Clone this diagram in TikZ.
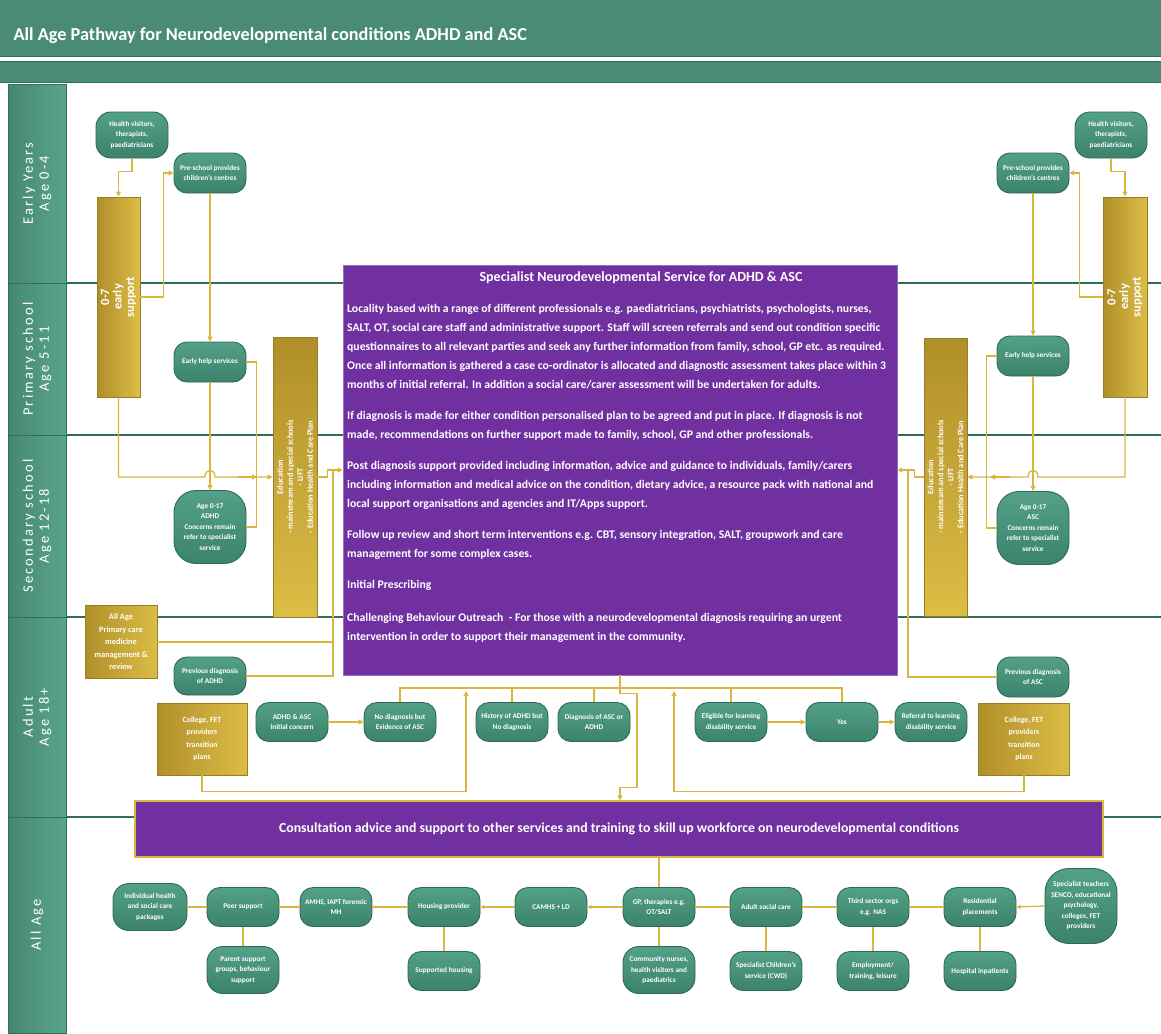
\documentclass[tikz,border=0pt]{standalone}
\usepackage{fontspec}
\setmainfont{Carlito}
\usetikzlibrary{arrows.meta,calc}
\definecolor{hdr}{HTML}{4A8C73}
\definecolor{hdrd}{HTML}{2F6F57}
\definecolor{lanef}{HTML}{45886F}
\definecolor{lanel}{HTML}{5AA58A}
\definecolor{ng}{HTML}{3B836A}
\definecolor{ngl}{HTML}{54A088}
\definecolor{ngd}{HTML}{2C6A54}
\definecolor{goldd}{HTML}{B08F2A}
\definecolor{goldl}{HTML}{DCBD45}
\definecolor{goldb}{HTML}{9A7D22}
\definecolor{wire}{HTML}{D8B640}
\definecolor{purp}{HTML}{7030A0}
\tikzset{
  gn/.style={rectangle, rounded corners=13pt, draw=ngd, line width=0.9pt,
    top color=ngl, bottom color=ng, text=white, align=center,
    font=\bfseries\fontsize{7.3}{10.5}\selectfont,
    minimum width=72pt, minimum height=39pt, inner sep=1pt},
  gbox/.style={rectangle, draw=goldb, line width=0.9pt, left color=goldd,
    right color=goldl, text=white, align=center,
    font=\bfseries\fontsize{7.8}{12.5}\selectfont, inner sep=1pt},
  gboxv/.style={gbox, left color=goldd, right color=goldl},
  lanecell/.style={rectangle, draw=hdrd, line width=1pt, left color=lanef,
    right color=lanel, text=white, align=center, rotate=90, inner sep=0pt,
    font=\fontsize{14.5}{16}\selectfont\addfontfeature{LetterSpace=15}},
  wire/.style={draw=wire, line width=1.3pt},
  arr/.style={wire, -{Triangle[length=5pt,width=5pt]}},
  arrs/.style={wire, -{Triangle[length=4pt,width=4pt]}}
}
\begin{document}
\begin{tikzpicture}[x=1pt,y=-1pt]
\useasboundingbox (0,0) rectangle (1161,1033);
\fill[white] (0,0) rectangle (1161,1033);
% header bars
\fill[hdr] (0,0) rectangle (1161,57);
\draw[hdrd, line width=1pt] (0,57) -- (1161,57);
\fill[hdr] (0,62) rectangle (1161,82);
\draw[hdrd, line width=1pt] (0,62) -- (1161,62);
\draw[hdrd, line width=1pt] (0,82) -- (1161,82);
\node[anchor=west, text=white, font=\bfseries\fontsize{18.3}{21}\selectfont] (title) at (10,36)
  {All Age Pathway for Neurodevelopmental conditions ADHD and ASC};

% lanes
\foreach \yy in {283,435,617,817} \draw[hdrd, line width=1.6pt] (66,\yy) -- (1161,\yy);
\node[lanecell, minimum width=199pt, minimum height=58pt] (lane1) at (37,183.5) {Early Years\\Age 0-4};
\node[lanecell, minimum width=152pt, minimum height=58pt] (lane2) at (37,359) {Primary school\\Age 5-11};
\node[lanecell, minimum width=182pt, minimum height=58pt] (lane3) at (37,526) {Secondary school\\Age 12-18};
\node[lanecell, minimum width=200pt, minimum height=58pt] (lane4) at (37,717) {Adult\\Age 18+};
\node[lanecell, minimum width=216pt, minimum height=58pt] (lane5) at (37,925) {All Age};

% ---------------- left upper ----------------
\node[gn, minimum height=46pt, rounded corners=15pt] (hvL) at (132,135) {Health visitors,\\therapists,\\paediatricians};
\node[gn, minimum height=40pt] (psL) at (210,173) {Pre-school provides\\children's centres};
\node[gboxv, minimum width=200pt, minimum height=43pt, rotate=90,
  font=\bfseries\fontsize{12.5}{12.5}\selectfont] (eyL) at (118.5,297) {0-7\\early\\support};
\node[gn, minimum height=40pt] (ehL) at (210,362) {Early help services};
\node[gn, minimum height=73pt, rounded corners=22pt] (ageL) at (210,527) {Age 0-17\\ADHD\\Concerns remain\\refer to specialist\\service};
\node[gbox, minimum width=280pt, minimum height=44pt, rotate=90, top color=goldd, bottom color=goldl,
  font=\bfseries\fontsize{8.3}{10}\selectfont] (eduL) at (295,477)
  {Education\\- mainstream and special schools\\- LIFT\\- Education Health and Care Plan};
\node[gbox, minimum width=72pt, minimum height=73pt, font=\bfseries\fontsize{8.3}{12.5}\selectfont] (allage) at (121,642) {All Age\\Primary care\\medicine\\management \&\\review};
\node[gn, minimum height=38pt] (prevADHD) at (210,676) {Previous diagnosis\\of ADHD};
\node[gbox, minimum width=90pt, minimum height=72pt] (colL) at (202,739) {College, FET\\providers\\transition\\plans};

% ---------------- right upper ----------------
\node[gn, minimum height=46pt, rounded corners=15pt] (hvR) at (1111,135) {Health visitors,\\therapists,\\paediatricians};
\node[gn, minimum height=40pt] (psR) at (1033,173) {Pre-school provides\\children's centres};
\node[gboxv, minimum width=200pt, minimum height=44pt, rotate=90,
  font=\bfseries\fontsize{12.5}{12.5}\selectfont] (eyR) at (1125,297) {0-7\\early\\support};
\node[gn, minimum height=40pt] (ehR) at (1033,356) {Early help services};
\node[gn, minimum height=73pt, rounded corners=22pt] (ageR) at (1033,528) {Age 0-17\\ASC\\Concerns remain\\refer to specialist\\service};
\node[gbox, minimum width=278pt, minimum height=43pt, rotate=90, top color=goldd, bottom color=goldl,
  font=\bfseries\fontsize{8.3}{10}\selectfont] (eduR) at (945.5,477)
  {Education\\- mainstream and special schools\\- LIFT\\- Education Health and Care Plan};
\node[gn, minimum height=40pt] (prevASC) at (1033,677) {Previous diagnosis\\of ASC};
\node[gbox, minimum width=91pt, minimum height=72pt] (colR) at (1024,739) {College, FET\\providers\\transition\\plans};

% ---------------- main purple box ----------------
\node[rectangle, fill=purp, draw=purp!70!white, line width=0.6pt, minimum width=554pt, minimum height=410pt] (main) at (620,470) {};
\node[text=white, font=\bfseries\fontsize{14}{16}\selectfont] (mtitle) at (641,278)
  {Specialist Neurodevelopmental Service for ADHD \& ASC};
\node[anchor=north west, text=white, align=left, inner sep=0pt,
  font=\bfseries\fontsize{11.7}{19}\selectfont] (mtext) at (347,304)
  {Locality based with a range of different professionals e.g. paediatricians, psychiatrists, psychologists, nurses,\\
   SALT, OT, social care staff and administrative support. Staff will screen referrals and send out condition specific\\
   questionnaires to all relevant parties and seek any further information from family, school, GP etc. as required.\\
   Once all information is gathered a case co-ordinator is allocated and diagnostic assessment takes place within 3\\
   months of initial referral. In addition a social care/carer assessment will be undertaken for adults.\\[12pt]
   If diagnosis is made for either condition personalised plan to be agreed and put in place. If diagnosis is not\\
   made, recommendations on further support made to family, school, GP and other professionals.\\[12pt]
   Post diagnosis support provided including information, advice and guidance to individuals, family/carers\\
   including information and medical advice on the condition, dietary advice, a resource pack with national and\\
   local support organisations and agencies and IT/Apps support.\\[12pt]
   Follow up review and short term interventions e.g. CBT, sensory integration, SALT, groupwork and care\\
   management for some complex cases.\\[12pt]
   Initial Prescribing\\[14pt]
   Challenging Behaviour Outreach\ \ - For those with a neurodevelopmental diagnosis requiring an urgent\\
   intervention in order to support their management in the community.};

% ---------------- adult row ----------------
\node[gn] (init) at (292,722) {ADHD \& ASC\\initial concern};
\node[gn] (noDiag) at (400,722) {No diagnosis but\\Evidence of ASC};
\node[gn] (histADHD) at (512,722) {History of ADHD but\\No diagnosis};
\node[gn] (diagASC) at (594,722) {Diagnosis of ASC or\\ADHD};
\node[gn] (elig) at (731,722) {Eligible for learning\\disability service};
\node[gn] (yes) at (842,722) {Yes};
\node[gn] (ref) at (931,722) {Referral to learning\\disability service};

% ---------------- consultation bar ----------------
\node[rectangle, fill=purp, draw=wire, line width=1.3pt, minimum width=968pt, minimum height=56pt,
  text=white, font=\bfseries\fontsize{13.8}{16}\selectfont] (cons) at (619,829)
  {Consultation advice and support to other services and training to skill up workforce on neurodevelopmental conditions};

% ---------------- all age row ----------------
\node[gn, minimum width=74pt, minimum height=47pt, rounded corners=16pt] (indiv) at (150,907) {Individual health\\and social care\\packages};
\node[gn] (peer) at (243,907) {Peer support};
\node[gn, minimum height=47pt, rounded corners=16pt] (parent) at (243,970) {Parent support\\groups, behaviour\\support};
\node[gn] (amhs) at (336,907) {AMHS, IAPT forensic\\MH};
\node[gn] (housing) at (444,907) {Housing provider};
\node[gn] (supp) at (444,971) {Supported housing};
\node[gn] (camhs) at (551,907) {CAMHS + LD};
\node[gn] (gp) at (659,907) {GP, therapies e.g.\\OT/SALT};
\node[gn, minimum height=47pt, rounded corners=16pt] (comm) at (659,970) {Community nurses,\\health visitors and\\paediatrics};
\node[gn] (adultsc) at (766,907) {Adult social care};
\node[gn] (specch) at (766,971) {Specialist Children's\\service (CWD)};
\node[gn] (third) at (873,907) {Third sector orgs\\e.g. NAS};
\node[gn] (employ) at (873,971) {Employment/\\training, leisure};
\node[gn] (resid) at (980,907) {Residential\\placements};
\node[gn] (hosp) at (980,971) {Hospital inpatients};
\node[gn, minimum height=75pt, rounded corners=24pt] (specteach) at (1081,906) {Specialist teachers\\SENCO, educational\\psychology,\\colleges, FET\\providers};

% ---------------- coordinates ----------------
\coordinate (jL) at (333,470);
\coordinate (jR) at (908,470);
\coordinate (upL) at (466,691);
\coordinate (upR) at (674,691);

% ---------------- connectors left ----------------
\draw[arr] (hvL.south) -- ++(0,13) -| (eyL.east);
\draw[arr] (eyL.south) -- ++(23,0) |- (psL.west);
\draw[arr] (psL.south) -- (ehL.north);
\draw[arr] (ehL.south) -- (ageL.north);
\draw[wire] (ehL.east) -- ++(10,0) |- (ageL.east);
\draw[arr] (eyL.west) -- (118.5,477) -- (205,477) .. controls (205,468) and (215,468) .. (215,477) -- (eduL.north);
\draw[arr] (238,477) -- (257,477);
\draw[arr] (eduL.south) -- ++(10,0) -- ++(0,-7) -- (main.west);
\draw[wire] (prevADHD.east) -| (jL);
\draw[wire] (allage.east) -- (allage.east -| jL);

% ---------------- connectors right ----------------
\draw[arr] (hvR.south) -- ++(0,13) -| (eyR.east);
\draw[arr] (eyR.north) -- ++(-23,0) |- (psR.east);
\draw[arr] (psR.south) -- (ehR.north);
\draw[arr] (ehR.south) -- (ageR.north);
\draw[wire] (ehR.west) -- ++(-10,0) |- (ageR.west);
\draw[arr] (eyR.west) -- (1125,477) -- (1038,477) .. controls (1038,468) and (1028,468) .. (1028,477) -- (eduR.south);
\draw[arr] (1010,477) -- (990,477);
\draw[arr] (eduR.north) -- ++(-9,0) -- ++(0,-7) -- (main.east);
\draw[wire] (prevASC.west) -| (jR);

% ---------------- adult connectors ----------------
\draw[arr] (init.east) -- (noDiag.west);
\draw[wire] (noDiag.north) -- ++(0,-14) -| (yes.north);
\draw[wire] (histADHD.north) -- ++(0,-14);
\draw[wire] (diagASC.north) -- ++(0,-14);
\draw[wire] (elig.north) -- ++(0,-14);
\draw[arr] (elig.east) -- (yes.west);
\draw[arr] (yes.east) -- (ref.west);
\draw[arr] (main.south) -- ++(0,18) -- ++(17,0) -- ++(0,94) -- ++(-17,0) -- (main.south |- cons.north);
\draw[arr] (colL.south) -- ++(0,16) -| (upL);
\draw[arr] (colR.south) -- ++(0,16) -| (upR);

% ---------------- all age connectors ----------------
\draw[wire] (indiv.east) -- (peer.west);
\draw[wire] (peer.east) -- (amhs.west);
\draw[wire] (amhs.east) -- (housing.west);
\draw[arrs] (camhs.west) -- (housing.east);
\draw[arrs] (gp.west) -- (camhs.east);
\draw[wire] (gp.east) -- (adultsc.west);
\draw[wire] (adultsc.east) -- (third.west);
\draw[wire] (third.east) -- (resid.west);
\draw[arrs] (specteach.west) -- (resid.east);
\draw[wire] (peer.south) -- (parent.north);
\draw[wire] (housing.south) -- (supp.north);
\draw[wire] (gp.south) -- (comm.north);
\draw[wire] (adultsc.south) -- (specch.north);
\draw[wire] (third.south) -- (employ.north);
\draw[wire] (resid.south) -- (hosp.north);
\draw[wire] (gp.north) -- (gp.north |- cons.south);
\end{tikzpicture}
\end{document}
